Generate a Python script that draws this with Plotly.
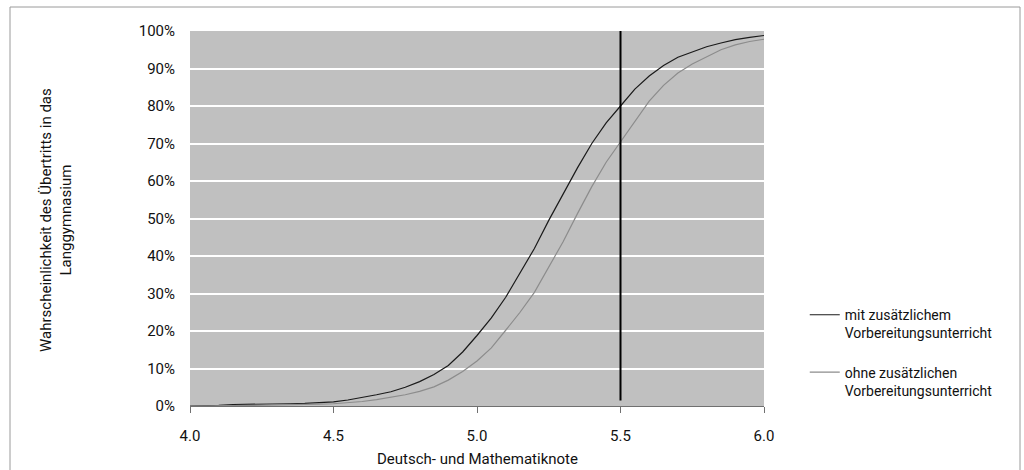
import plotly.graph_objects as go

note = [4.00, 4.05, 4.10, 4.15, 4.20, 4.25, 4.30, 4.35, 4.40, 4.45,
        4.50, 4.55, 4.60, 4.65, 4.70, 4.75, 4.80, 4.85, 4.90, 4.95,
        5.00, 5.05, 5.10, 5.15, 5.20, 5.25, 5.30, 5.35, 5.40, 5.45,
        5.50, 5.55, 5.60, 5.65, 5.70, 5.75, 5.80, 5.85, 5.90, 5.95, 6.00]

mit = [0.0, 0.0, 0.2, 0.4, 0.4, 0.4, 0.5, 0.6, 0.7, 0.8,
       1.1, 1.6, 2.2, 3.0, 3.8, 5.0, 6.5, 8.4, 10.8, 14.4,
       18.8, 23.5, 29.0, 35.5, 42.0, 49.5, 56.5, 63.5, 70.0, 75.5,
       80.0, 84.5, 88.0, 90.8, 93.0, 94.5, 95.8, 96.8, 97.7, 98.3, 98.8]

ohne = [0.0, 0.0, 0.0, 0.1, 0.2, 0.2, 0.3, 0.3, 0.4, 0.5,
        0.6, 0.9, 1.2, 1.7, 2.3, 3.0, 3.9, 5.1, 6.9, 9.2,
        12.0, 15.5, 20.2, 25.0, 30.3, 37.0, 43.8, 51.3, 58.5, 65.0,
        70.5, 76.0, 81.3, 85.5, 88.8, 91.2, 93.2, 95.0, 96.3, 97.2, 97.8]

series_names = ["mit zusätzlichem<br>Vorbereitungsunterricht",
                "ohne zusätzlichen<br>Vorbereitungsunterricht"]
x_ticks = [4.0, 4.5, 5.0, 5.5, 6.0]
x_ticktext = ["4.0", "4.5", "5.0", "5.5", "6.0"]
y_ticks = [0, 10, 20, 30, 40, 50, 60, 70, 80, 90, 100]
y_ticktext = [f"{v}%" for v in y_ticks]
cutoff = 5.5

FONT = "Roboto, Liberation Sans, sans-serif"

fig = go.Figure()
fig.add_trace(go.Scatter(x=note, y=mit, mode="lines", name=series_names[0],
                         legendgroup="a",
                         line=dict(color="#1a1a1a", width=1.2)))
fig.add_trace(go.Scatter(x=note, y=ohne, mode="lines", name=series_names[1],
                         legendgroup="b",
                         line=dict(color="#8c8c8c", width=1.2)))

# vertical line at 5.5
fig.add_shape(type="line", xref="x", yref="y", x0=cutoff, x1=cutoff, y0=1.5, y1=100,
              line=dict(color="#000000", width=2))

# outer frame
fig.add_shape(type="rect", xref="paper", yref="paper",
              x0=(10 - 190) / 574, x1=(1020 - 190) / 574,
              y0=-0.3, y1=(406 - 7) / 375,
              line=dict(color="#9a9a9a", width=1), layer="below")

fig.update_layout(
    width=1024, height=470,
    margin=dict(l=190, r=260, t=31, b=64),
    paper_bgcolor="white", plot_bgcolor="#c0c0c0",
    font=dict(family=FONT, size=14, color="#111111"),
    showlegend=True,
    legend=dict(x=1.071, y=0.285, xanchor="left", yanchor="top",
                bgcolor="rgba(0,0,0,0)", font=dict(size=14),
                tracegroupgap=18, itemwidth=30, valign="top"),
    xaxis=dict(range=[4.0, 6.0], tickvals=x_ticks, ticktext=x_ticktext,
               showgrid=False, zeroline=False, showline=True, linecolor="#707070",
               linewidth=1, ticks="outside", ticklen=6, tickcolor="#707070",
               ticklabelstandoff=10, tickfont=dict(size=15)),
    yaxis=dict(range=[0, 100], tickvals=y_ticks, ticktext=y_ticktext,
               showgrid=True, gridcolor="#ffffff", gridwidth=1.5, zeroline=False,
               showline=False, ticks="", ticklabelstandoff=14,
               tickfont=dict(size=15)),
    annotations=[
        dict(text="Deutsch- und Mathematiknote", xref="paper", yref="paper",
             x=0.5, y=(406 - 459) / 375, xanchor="center", yanchor="middle",
             showarrow=False, font=dict(size=15)),
        dict(text="Wahrscheinlichkeit des Übertritts in das<br>Langgymnasium",
             xref="paper", yref="paper", x=(56 - 190) / 574, y=(406 - 220) / 375,
             xanchor="center", yanchor="middle", textangle=-90,
             showarrow=False, font=dict(size=15)),
    ],
)

fig.write_html("out.html", config={"displayModeBar": False},
               post_script="document.body.style.margin='0';")
